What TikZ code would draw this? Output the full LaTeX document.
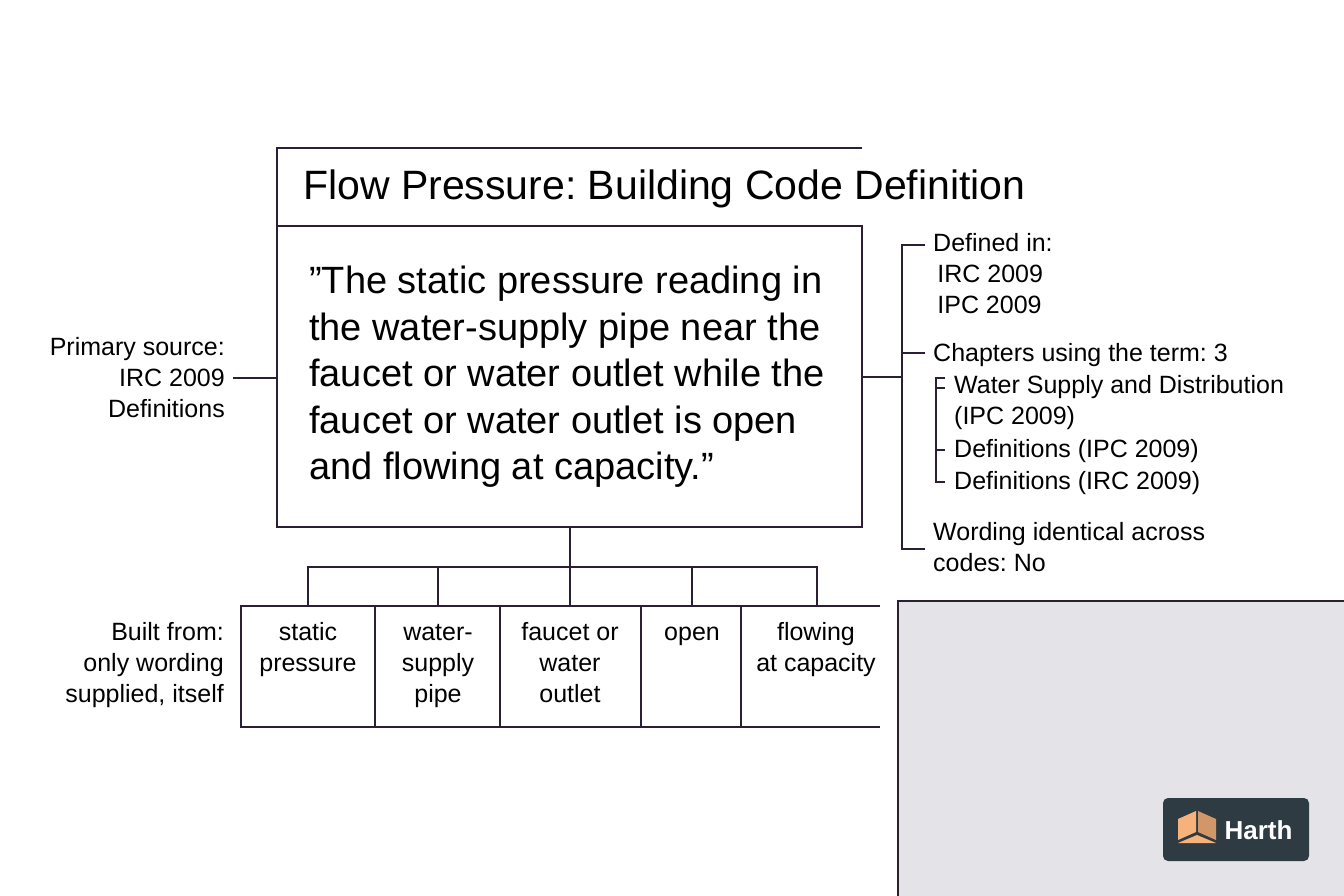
\documentclass[tikz,border=0pt]{standalone}
\usepackage{fontspec}
\setmainfont{Liberation Sans}[Ligatures=ResetAll]
\usetikzlibrary{positioning,calc}
\definecolor{ink}{HTML}{2A1F33}
\definecolor{panel}{HTML}{E4E3E8}
\definecolor{logobg}{HTML}{2F3B42}
\definecolor{cube}{HTML}{F6B27A}
\tikzset{
    line/.style={draw=ink,line width=1.6pt},
    side/.style={font=\fontsize{25}{31}\selectfont,inner sep=0pt,align=left,anchor=north west},
    cell/.style={font=\fontsize{25}{31}\selectfont,align=center,anchor=north,inner sep=0pt},
}
\begin{document}
\frenchspacing
\begin{tikzpicture}[x=1pt,y=-1pt]
            \useasboundingbox[fill=white] (0,0) rectangle (1344,896);
            % title and quote
            \draw[line] (862,148) -- (277,148) -- (277,226);
            \node[anchor=west,inner sep=0pt,font=\fontsize{41}{47}\selectfont] (title) at (303,189) {Flow Pressure: Building Code Definition};
            \draw[line] (277,226) rectangle (862,527);
            \coordinate (boxL) at (277,378);
            \coordinate (boxR) at (862,377);
            \coordinate (boxB) at (570,527);
            \node[anchor=north west,inner sep=0pt,align=left,font=\fontsize{38}{46.5}\selectfont] (quote) at (309,266)
                {"The static pressure reading in\\the water-supply pipe near the\\faucet or water outlet while the\\faucet or water outlet is open\\and flowing at capacity.”};
            % left note
            \node[side,align=right,anchor=east] (source) at (225,378) {Primary source:\\IRC 2009\\Definitions};
            \draw[line] (boxL) -- ($(boxL)+(-44,0)$);
            % right notes
            \coordinate (br) at (902,377);
            \draw[line] (boxR) -- (br);
            \draw[line] (925,245) -- (902,245) -- (902,549) -- (925,549);
            \draw[line] (902,353) -- (925,353);
            \node[side] (defin) at (933,233) {Defined in:\\\,IRC 2009\\\,IPC 2009};
            \node[side,anchor=west] (chap) at (933,355) {Chapters using the term: 3};
            \draw[line,line width=1.2pt] (945,378) -- (936,378) -- (936,482) -- (945,482);
            \draw[line,line width=1.2pt] (936,388) -- (945,388);
            \draw[line,line width=1.2pt] (936,450) -- (945,450);
            \node[side] (chA) at (954,375) {Water Supply and Distribution\\(IPC 2009)};
            \node[side,anchor=west] (chB) at (954,451) {Definitions (IPC 2009)};
            \node[side,anchor=west] (chC) at (954,483) {Definitions (IRC 2009)};
            \node[side] (word) at (933,522) {Wording identical across\\codes: No};
            % tree down to parts
            \draw[line] (boxB) -- (570,567);
            \draw[line] (308,606) -- (308,567) -- (817,567) -- (817,606);
            \foreach \x in {438,570,692}
                \draw[line] (\x,567) -- (\x,606);
            \draw[line] (880,606) -- (241,606) -- (241,727) -- (880,727);
            \foreach \x in {375,500,641,741}
                \draw[line] (\x,606) -- (\x,727);
            \node[cell] (pA) at (308,619) {\strut static\\pressure};
            \node[cell] (pB) at (438,619) {\strut water-\\supply\\pipe};
            \node[cell] (pC) at (570,619) {\strut faucet or\\water\\outlet};
            \node[cell] (pD) at (692,619) {\strut open};
            \node[cell] (pE) at (816,619) {\strut flowing\\at capacity};
            \node[side,align=right,anchor=north east] (built) at (224,619) {\strut Built from:\\only wording\\supplied, itself};
            % panel and logo
            \fill[panel] (898,601) rectangle (1344,896);
            \draw[line] (1346,601) -- (898,601) -- (898,898);
            \fill[logobg,rounded corners=5pt] (1163,798) rectangle (1309,861);
            \fill[cube] (1178,819) -- (1196,811) -- (1196,832) -- (1178,840) -- cycle;
            \fill[cube!85!black] (1198,811) -- (1216,819) -- (1216,840) -- (1198,832) -- cycle;
            \fill[cube] (1178,843) -- (1197,835) -- (1216,843) -- cycle;
            \node[anchor=west,text=white,font=\bfseries\fontsize{26}{30}\selectfont] (logo) at (1221,830) {Harth};
        \end{tikzpicture}
\end{document}
